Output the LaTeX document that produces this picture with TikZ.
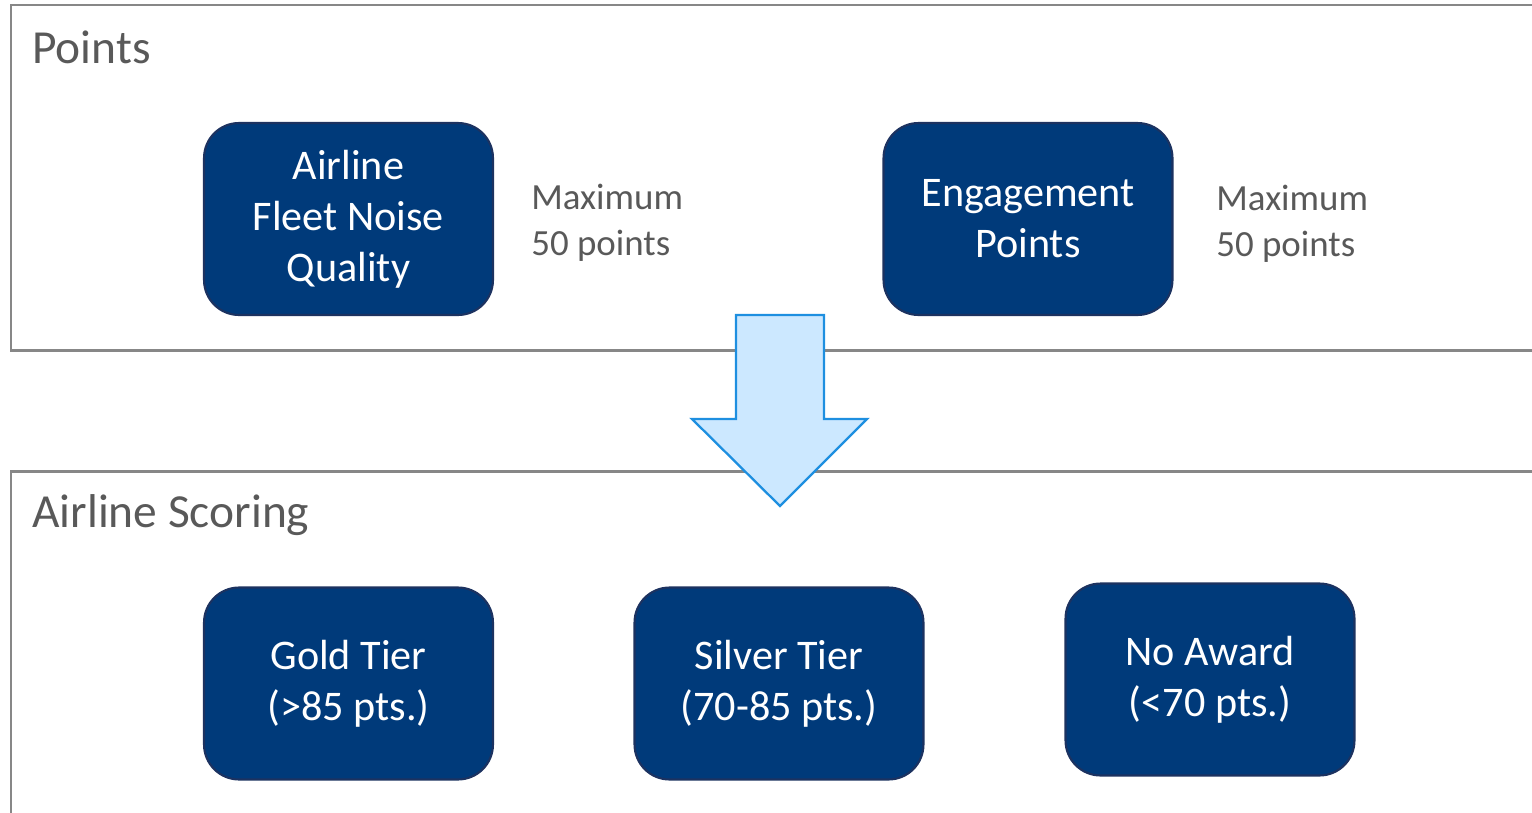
\documentclass[tikz,border=0pt]{standalone}
\usepackage{fontspec}
\setmainfont{Carlito}
\usepackage{tikz}
\usetikzlibrary{positioning, calc}
\definecolor{navyfill}{HTML}{003A7A}
\definecolor{navyline}{HTML}{1C3260}
\definecolor{framegray}{HTML}{878787}
\definecolor{textgray}{HTML}{595959}
\definecolor{arrowfill}{HTML}{CCE8FF}
\definecolor{arrowline}{HTML}{1E8FE0}
\tikzset{
	tierbox/.style={draw=navyline, line width=1.2pt, fill=navyfill, rounded corners=0.7cm, text=white, align=center, minimum width=5.78cm, minimum height=3.84cm, inner sep=0pt, font=\fontsize{24}{29}\selectfont},
	maxnote/.style={anchor=west, align=left, text=textgray, inner sep=0pt, font=\fontsize{21}{26}\selectfont},
	paneltitle/.style={anchor=west, text=textgray, inner sep=0pt, font=\fontsize{27}{32}\selectfont},
	panel/.style={draw=framegray, line width=1.7pt}
}

\begin{document}
\begin{tikzpicture}[x=0.02cm, y=-0.02cm]
				\useasboundingbox (0,0) rectangle (1532,812);
				\clip (0,0) rectangle (1532,812);
				% panels
				\draw [panel] (11,5) rectangle (1545,350);
				\draw [panel] (11,471) rectangle (1545,830);
				\node [paneltitle] (pointstitle) at (32,47) {Points};
				\node [paneltitle] (scoringtitle) at (32,515) {Airline Scoring};
				
				% points
				\node [tierbox] (fleet) at (348.5,219) {Airline\\Fleet Noise\\Quality};
				\node [tierbox] (engage) at (1028,219) {Engagement\\Points};
				\node [maxnote] (maxfleet) at (531,223) {Maximum\\50 points};
				\node [maxnote] (maxengage) at (1216,224) {Maximum\\50 points};
				
				% arrow
				\draw [fill=arrowfill, draw=arrowline, line width=1.3pt, line join=miter]
					(736,315) -- (824,315) -- (824,419) -- (867,419) -- (780,506) -- (692,419) -- (736,419) -- cycle;
				
				% tiers
				\node [tierbox] (gold) at (348.5,683.5) {Gold Tier\\(>85 pts.)};
				\node [tierbox] (silver) at (779,683.5) {Silver Tier\\(70-85 pts.)};
				\node [tierbox] (noaward) at (1210,679.5) {No Award\\(<70 pts.)};
\end{tikzpicture}
\end{document}
